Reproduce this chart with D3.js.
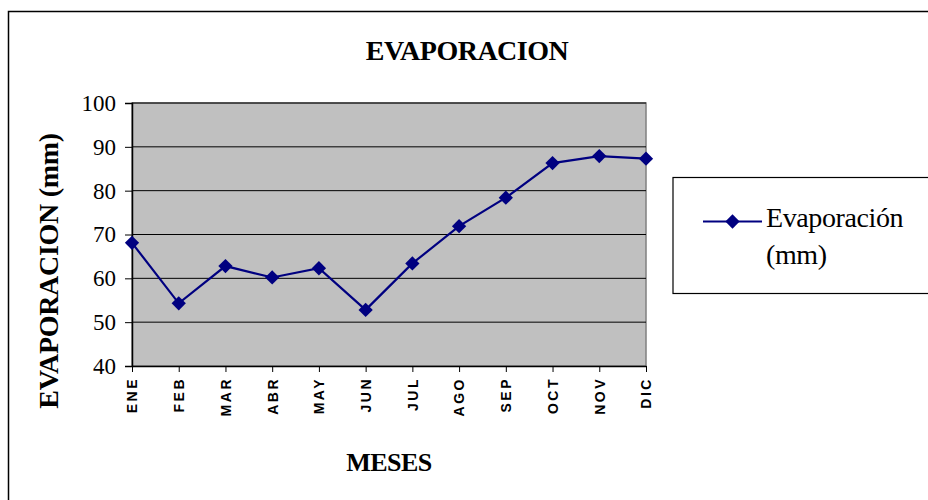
<!DOCTYPE html>
<html>
<head>
<meta charset="utf-8">
<script src="https://cdn.jsdelivr.net/npm/d3@7"></script>
<style>
  body { margin: 0; background: #fff; }
  svg { display: block; }
</style>
</head>
<body>
<svg width="928" height="500"></svg>
<script>
var months = ["ENE", "FEB", "MAR", "ABR", "MAY", "JUN", "JUL", "AGO", "SEP", "OCT", "NOV", "DIC"];
var evaporation = [68.1, 54.3, 62.8, 60.2, 62.3, 52.8, 63.4, 71.9, 78.4, 86.3, 87.9, 87.3];
var yTicks = [40, 50, 60, 70, 80, 90, 100];
var seriesName = ["Evaporación", "(mm)"];

var svg = d3.select("svg"),
    width = +svg.attr("width"),
    height = +svg.attr("height");

var serif = "'Liberation Serif', 'Times New Roman', serif";
var navy = "#000080";

// chart area frame
svg.append("rect")
    .attr("x", 8.5).attr("y", 11.5)
    .attr("width", 940).attr("height", 520)
    .attr("fill", "#fff").attr("stroke", "#000").attr("stroke-width", 1.5);

var plot = { left: 132, top: 103, right: 646, bottom: 366 };

var x = d3.scalePoint()
    .domain(months)
    .range([plot.left, plot.right]);

var y = d3.scaleLinear()
    .domain([40, 100])
    .range([plot.bottom, plot.top]);

// plot background
svg.append("rect")
    .attr("x", plot.left).attr("y", plot.top)
    .attr("width", plot.right - plot.left).attr("height", plot.bottom - plot.top)
    .attr("fill", "#c0c0c0")
    .attr("stroke", "#808080").attr("stroke-width", 1.5);

// gridlines
svg.append("g")
    .selectAll("line")
    .data(yTicks.slice(1))
    .enter().append("line")
    .attr("x1", plot.left).attr("x2", plot.right)
    .attr("y1", function(d) { return y(d); })
    .attr("y2", function(d) { return y(d); })
    .attr("stroke", "#000").attr("stroke-width", 1);

// y axis
var yAxis = svg.append("g")
    .attr("transform", "translate(" + plot.left + ",0)")
    .call(d3.axisLeft(y).tickValues(yTicks).tickSize(7).tickPadding(9));
yAxis.select(".domain").attr("stroke", "#000").attr("stroke-width", 1.5);
yAxis.selectAll(".tick line").attr("stroke", "#000");
yAxis.selectAll("text")
    .attr("font-family", serif)
    .attr("font-size", 23)
    .attr("fill", "#000");

// x axis, labels rotated to read upward
var xAxis = svg.append("g")
    .attr("transform", "translate(0," + plot.bottom + ")")
    .call(d3.axisBottom(x).tickSize(6).tickSizeOuter(0));
xAxis.select(".domain").attr("stroke", "#000").attr("stroke-width", 1.5);
xAxis.selectAll(".tick line").attr("stroke", "#000");
xAxis.selectAll("text")
    .attr("font-family", "'Liberation Sans', Arial, sans-serif")
    .attr("font-weight", "bold")
    .attr("font-size", 14)
    .attr("letter-spacing", 2.5)
    .attr("fill", "#000")
    .attr("text-anchor", "end")
    .attr("dy", "0.35em")
    .attr("transform", "translate(0,11) rotate(-90)")
    .attr("x", 0).attr("y", 0);

// series line
var line = d3.line()
    .x(function(d, i) { return x(months[i]); })
    .y(function(d) { return y(d); });

svg.append("path")
    .datum(evaporation)
    .attr("fill", "none")
    .attr("stroke", navy)
    .attr("stroke-width", 2.2)
    .attr("d", line);

var diamond = d3.symbol().type(d3.symbolDiamond2).size(130);

svg.append("g")
    .selectAll("path")
    .data(evaporation)
    .enter().append("path")
    .attr("d", diamond)
    .attr("transform", function(d, i) { return "translate(" + x(months[i]) + "," + y(d) + ")"; })
    .attr("fill", navy);

// titles
svg.append("text")
    .attr("x", 467).attr("y", 60)
    .attr("text-anchor", "middle")
    .attr("font-family", serif)
    .attr("font-weight", "bold")
    .attr("font-size", 28)
    .attr("letter-spacing", -0.5)
    .text("EVAPORACION");

svg.append("text")
    .attr("x", 389).attr("y", 471)
    .attr("text-anchor", "middle")
    .attr("font-family", serif)
    .attr("font-weight", "bold")
    .attr("font-size", 26)
    .attr("letter-spacing", -0.5)
    .text("MESES");

svg.append("text")
    .attr("transform", "translate(58,271) rotate(-90)")
    .attr("text-anchor", "middle")
    .attr("font-family", serif)
    .attr("font-weight", "bold")
    .attr("font-size", 28)
    .attr("letter-spacing", -0.3)
    .text("EVAPORACION (mm)");

// legend
var legend = svg.append("g");
legend.append("rect")
    .attr("x", 673).attr("y", 177.5)
    .attr("width", 300).attr("height", 116)
    .attr("fill", "#fff").attr("stroke", "#000").attr("stroke-width", 1.2);
legend.append("line")
    .attr("x1", 703).attr("x2", 762)
    .attr("y1", 221.5).attr("y2", 221.5)
    .attr("stroke", navy).attr("stroke-width", 2.2);
legend.append("path")
    .attr("d", diamond)
    .attr("transform", "translate(732.5,221.5)")
    .attr("fill", navy);
legend.selectAll("text")
    .data(seriesName)
    .enter().append("text")
    .attr("x", 766)
    .attr("y", function(d, i) { return 227 + i * 37; })
    .attr("font-family", serif)
    .attr("font-size", 28)
    .attr("letter-spacing", -0.4)
    .text(function(d) { return d; });
</script>
</body>
</html>
